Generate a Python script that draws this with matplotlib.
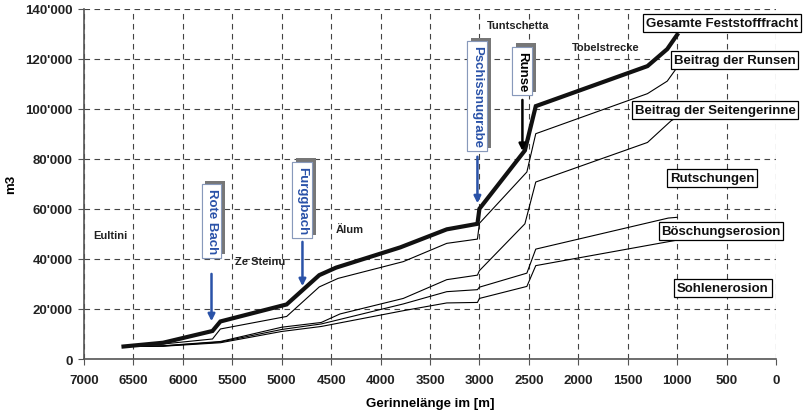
import matplotlib
matplotlib.use('Agg')
import matplotlib.pyplot as plt
import matplotlib.patheffects as pe
from matplotlib.ticker import FuncFormatter, MultipleLocator

plt.rcParams['font.family'] = ['Liberation Sans', 'DejaVu Sans']

# Gesamte Feststofffracht (thick line)
x_total = [6600, 6200, 5700, 5620, 4950, 4620, 4450, 3800, 3330, 3020, 3000, 2540, 2430, 1300, 1100, 1000]
y_total = [5000, 6500, 11200, 15000, 21800, 33500, 36500, 44600, 51800, 54000, 60000, 83300, 101000, 117000, 123800, 129500]

# ohne Runsen
x_l4 = [6600, 6200, 5700, 5620, 4950, 4620, 4430, 3770, 3330, 3020, 3000, 2520, 2430, 1300, 1100, 1000]
y_l4 = [5000, 6000, 8000, 12000, 17000, 28800, 32200, 38900, 46200, 47900, 54200, 74700, 90000, 106000, 111000, 116500]

# ohne Seitengerinne
x_l3 = [6600, 6200, 5620, 5000, 4600, 4410, 3770, 3330, 3020, 3000, 2540, 2430, 1300, 1060, 1000]
y_l3 = [5000, 5300, 7000, 12700, 14600, 18000, 24200, 31700, 33500, 35300, 54000, 70700, 86500, 95200, 96500]

# Sohle + Boeschung
x_l2 = [6600, 6200, 5620, 5000, 4600, 3770, 3330, 3020, 3000, 2520, 2430, 1090, 1000]
y_l2 = [5000, 5200, 6800, 11800, 14000, 22000, 26900, 27700, 28700, 34300, 43900, 56300, 56600]

# Sohlenerosion
x_l1 = [6600, 6200, 5620, 5000, 4600, 3770, 3330, 3020, 3000, 2520, 2430, 1000]
y_l1 = [5000, 5100, 6500, 11000, 13000, 19300, 22400, 22600, 24200, 29000, 37300, 47500]

# Seitenbaeche / Runsen mit Pfeilen: (text, x, box y, arrow start y, arrow end y, colour)
zufluesse = [
    ("Rote Bach", 5710, 55100, 35100, 14000, '#2a52a8'),
    ("Furggbach", 4790, 63500, 47900, 28000, '#2a52a8'),
    ("Pschissnugrabe", 3020, 105000, 81900, 61100, '#2a52a8'),
    ("Runse", 2565, 115000, 104600, 82000, 'black'),
]

orte = [("Eultini", 6737, 49500), ("Ze Steinu", 5220, 39100), ("Älum", 4310, 51900),
        ("Tuntschetta", 2610, 133400), ("Tobelstrecke", 1720, 124600)]

anteile = [("Gesamte Feststofffracht", 546, 134200), ("Beitrag der Runsen", 415, 119400),
           ("Beitrag der Seitengerinne", 617, 99500), ("Rutschungen", 647, 72300),
           ("Böschungserosion", 556, 51100), ("Sohlenerosion", 536, 28400)]

fig = plt.figure(figsize=(8.09, 4.14), dpi=100)
ax = fig.add_axes([0.1038, 0.1304, 0.8554, 0.8466])

ax.plot(x_l1, y_l1, color='black', lw=0.8)
ax.plot(x_l2, y_l2, color='black', lw=0.8)
ax.plot(x_l3, y_l3, color='black', lw=0.8)
ax.plot(x_l4, y_l4, color='black', lw=0.8)
ax.plot(x_total, y_total, color='#111111', lw=3.0, solid_joinstyle='miter')

ax.set_xlim(7000, 0)
ax.set_ylim(0, 140000)
ax.xaxis.set_major_locator(MultipleLocator(500))
ax.yaxis.set_major_locator(MultipleLocator(20000))
ax.yaxis.set_major_formatter(FuncFormatter(lambda v, p: f"{int(v):,}".replace(",", "'")))
ax.grid(True, color='#444444', ls=(0, (5, 4)), lw=0.8)
ax.set_axisbelow(True)
for s in ['top', 'right']:
    ax.spines[s].set_visible(False)
for s in ['left', 'bottom']:
    ax.spines[s].set_color('#555555')
    ax.spines[s].set_linewidth(1.2)
ax.tick_params(direction='out', length=4, color='#555555', labelsize=9.5, pad=4)
ax.tick_params(axis='x', pad=7)
for lab in ax.get_xticklabels() + ax.get_yticklabels():
    lab.set_fontweight('bold')
    lab.set_color('#222222')

ax.set_xlabel("Gerinnelänge im [m]", fontsize=9.5, fontweight='bold', labelpad=8)
ax.set_ylabel("m3", fontsize=9.5, fontweight='bold', labelpad=6)

for name, x, yb, y0, y1, col in zufluesse:
    t = ax.text(x, yb, name, rotation=-90, ha='center', va='center', fontsize=9.5,
                fontweight='bold', color=col,
                bbox=dict(boxstyle='square,pad=0.3', fc='white', ec='#8899bb', lw=0.8))
    t.get_bbox_patch().set_path_effects([pe.withSimplePatchShadow(offset=(2.5, 2.5), shadow_rgbFace='#777777', alpha=1), pe.Normal()])
    ax.annotate("", xy=(x, y1), xytext=(x, y0),
                arrowprops=dict(arrowstyle='-|>', color=col, lw=1.8, mutation_scale=10))

for name, x, y in orte:
    ax.text(x, y, name, ha='center', va='center', fontsize=8, fontweight='bold', color='#222222')

for name, x, y in anteile:
    ax.text(x, y, name, ha='center', va='center', fontsize=9.5, fontweight='bold', color='#111111',
            bbox=dict(boxstyle='square,pad=0.2', fc='white', ec='black', lw=0.9))

fig.savefig("out.png", dpi=100)
